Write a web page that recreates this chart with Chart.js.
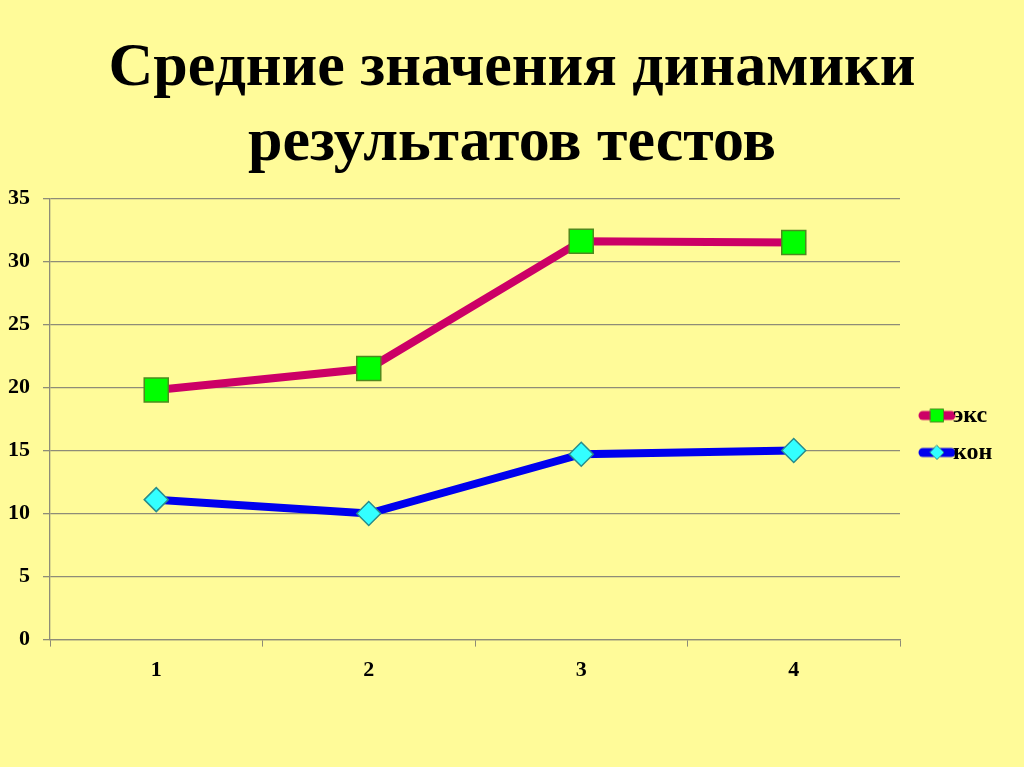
<!DOCTYPE html>
<html>
<head>
<meta charset="utf-8">
<script src="https://cdn.jsdelivr.net/npm/chart.js@4"></script>
<style>
  html, body { margin: 0; padding: 0; background: #FFFB99; }
  #wrap { width: 1024px; height: 767px; }
</style>
</head>
<body>
<div id="wrap"><canvas id="chart"></canvas></div>
<script>
// chart data
const categories = ['1', '2', '3', '4'];
const eksValues = [19.8, 21.5, 31.6, 31.5];
const konValues = [11.1, 10.0, 14.7, 15.0];
const seriesNames = ['экс', 'кон'];
const yMin = 0, yMax = 35, yStep = 5;
const titleLines = ['Средние значения динамики', 'результатов тестов'];

const serif = "'Liberation Serif', 'Times New Roman', serif";
const gridColor = '#8E8C78';

// small picture for the legend: thick line with the marker on it
// (left part of the canvas is left empty so the icon sits a bit to the right)
function legendIcon(lineColor, fill, border, shape) {
    const shift = 20;
    const c = document.createElement('canvas');
    c.width = 38 + shift;
    c.height = 20;
    const g = c.getContext('2d');
    g.translate(shift, 0);
    g.strokeStyle = lineColor;
    g.lineWidth = 9;
    g.lineCap = 'round';
    g.beginPath();
    g.moveTo(5, 10);
    g.lineTo(33, 10);
    g.stroke();
    g.fillStyle = fill;
    g.strokeStyle = border;
    g.lineWidth = 1;
    g.beginPath();
    if (shape === 'rect') {
        g.rect(12.5, 3.5, 13, 13);
    } else {
        g.moveTo(19, 3);
        g.lineTo(26, 10);
        g.lineTo(19, 17);
        g.lineTo(12, 10);
        g.closePath();
    }
    g.fill();
    g.stroke();
    return c;
}

const icons = [
    legendIcon('#CC0066', '#00FF00', '#4E8A1E', 'rect'),
    legendIcon('#0000EE', '#33FFFF', '#2A8C8C', 'diamond')
];

// make the legend column wider than its content so the plot ends at the same place
const legendWidth = {
    id: 'legendWidth',
    beforeLayout(chart) {
        const lg = chart.legend;
        if (lg && !lg._widthPatched) {
            const fit = lg.fit.bind(lg);
            lg.fit = function () {
                fit();
                this.width = 124;
            };
            lg._widthPatched = true;
        }
    }
};

new Chart(document.getElementById('chart'), {
    type: 'line',
    plugins: [legendWidth],
    data: {
        labels: categories,
        datasets: [{
            label: seriesNames[0],
            data: eksValues,
            borderColor: '#CC0066',
            borderWidth: 8,
            pointStyle: 'rect',
            pointRadius: 17,
            pointBackgroundColor: '#00FF00',
            pointBorderColor: '#4E8A1E',
            pointBorderWidth: 1.5
        }, {
            label: seriesNames[1],
            data: konValues,
            borderColor: '#0000EE',
            borderWidth: 8,
            pointStyle: 'rectRot',
            pointRadius: 12,
            pointBackgroundColor: '#33FFFF',
            pointBorderColor: '#2A8C8C',
            pointBorderWidth: 1.5
        }]
    },
    options: {
        responsive: true,
        maintainAspectRatio: false,
        animation: false,
        layout: { padding: { left: 0, right: 0, bottom: 72 } },
        elements: { line: { tension: 0 } },
        plugins: {
            title: {
                display: true,
                text: titleLines,
                color: '#000',
                font: { family: serif, size: 62, weight: 'bold', lineHeight: 1.22 },
                padding: { top: 31, bottom: 16 }
            },
            legend: {
                position: 'right',
                fullSize: false,
                title: { display: true, text: '', color: '#000', font: { size: 10 }, padding: 9 },
                labels: {
                    usePointStyle: true,
                    pointStyleWidth: 28,
                    color: '#000',
                    font: { family: serif, size: 24, weight: 'bold' },
                    padding: 13,
                    generateLabels: chart => chart.data.datasets.map((ds, i) => ({
                        text: ds.label,
                        fontColor: '#000',
                        pointStyle: icons[i],
                        fillStyle: ds.borderColor,
                        strokeStyle: ds.borderColor,
                        lineWidth: 0,
                        hidden: false,
                        datasetIndex: i
                    }))
                }
            },
            tooltip: { enabled: false }
        },
        scales: {
            x: {
                offset: true,
                grid: {
                    offset: true,
                    drawOnChartArea: false,
                    color: gridColor,
                    tickLength: 7
                },
                border: { color: gridColor, width: 1.3 },
                ticks: {
                    color: '#000',
                    font: { family: serif, size: 22, weight: 'bold' },
                    padding: 11
                }
            },
            y: {
                min: yMin,
                max: yMax,
                afterFit: scale => { scale.width = 50; },
                grid: { color: gridColor, lineWidth: 1.3, tickLength: 7 },
                border: { color: gridColor, width: 1.3 },
                ticks: {
                    stepSize: yStep,
                    color: '#000',
                    font: { family: serif, size: 22, weight: 'bold' },
                    padding: 13
                }
            }
        }
    }
});
</script>
</body>
</html>
